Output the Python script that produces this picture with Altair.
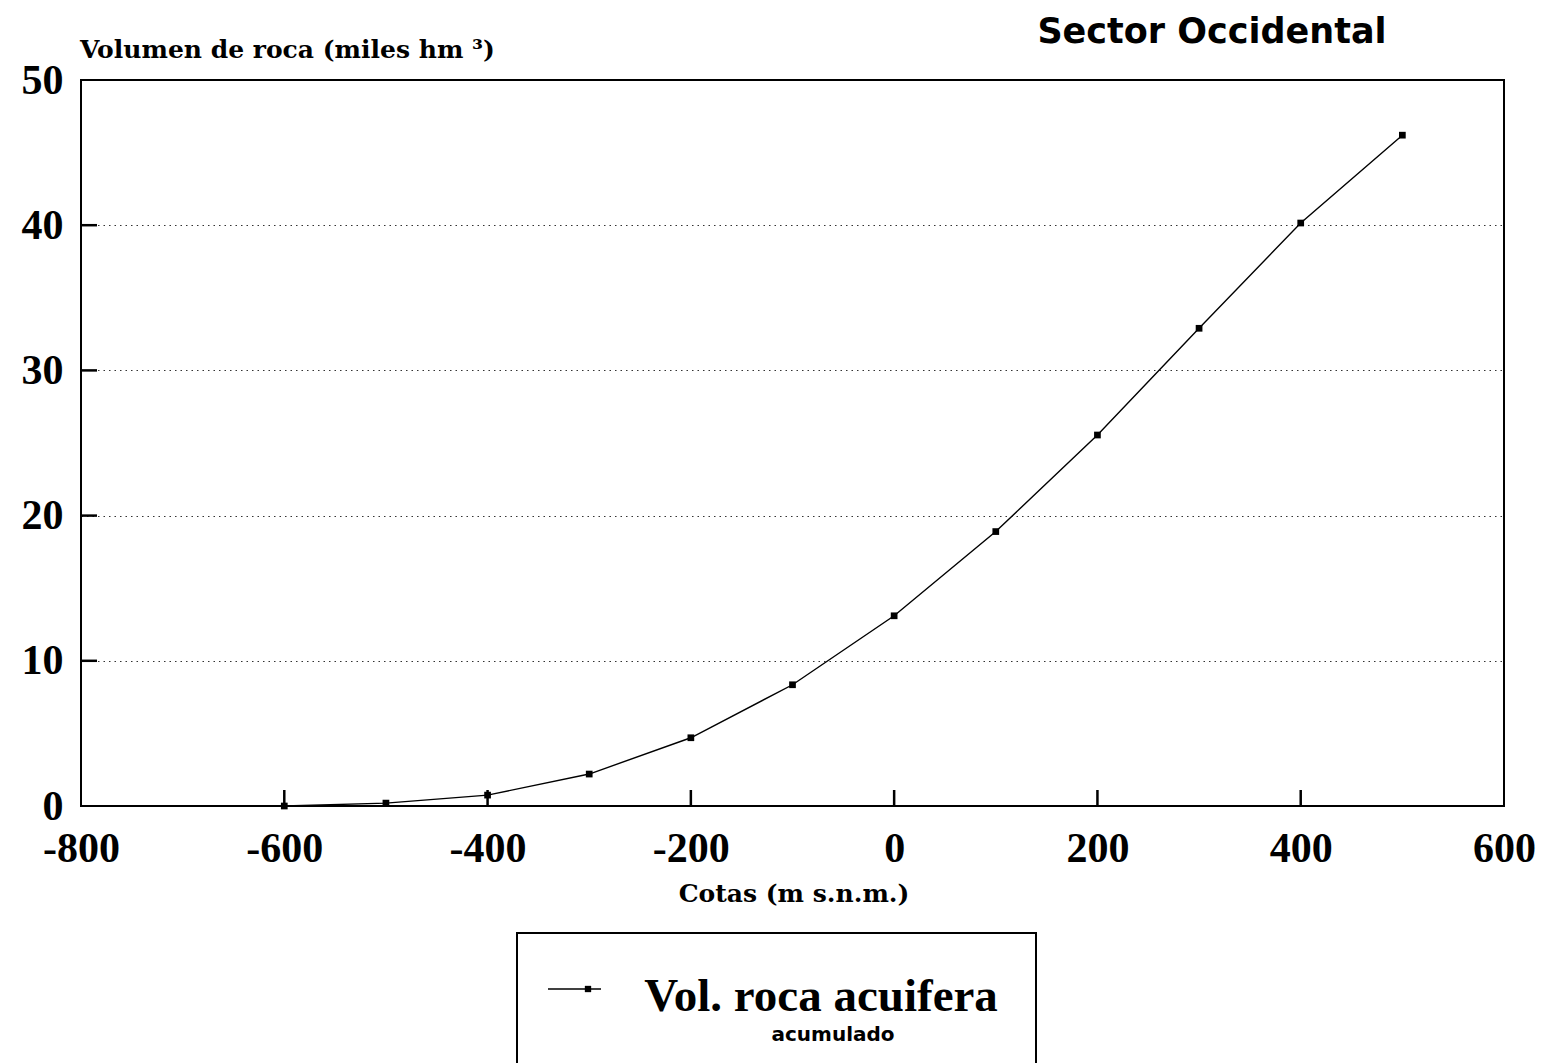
import altair as alt
import pandas as pd

# Cumulative aquifer rock volume by elevation
cotas = [-600, -500, -400, -300, -200, -100, 0, 100, 200, 300, 400, 500]
volumen = [0.0, 0.2, 0.75, 2.2, 4.7, 8.35, 13.1, 18.9, 25.55, 32.9, 40.15, 46.2]

x_ticks = [-800, -600, -400, -200, 0, 200, 400, 600]
x_inner_ticks = [-600, -400, -200, 0, 200, 400]
y_ticks = [0, 10, 20, 30, 40, 50]
y_inner_ticks = [10, 20, 30, 40]

titulo = "Sector Occidental"
titulo_y = "Volumen de roca (miles hm ³)"
titulo_x = "Cotas (m s.n.m.)"
leyenda = "Vol. roca acuifera"
leyenda_sub = "acumulado"

W, H = 1423, 726
SERIF = "Liberation Serif"

df = pd.DataFrame({"cota": cotas, "vol": volumen})

x_scale = alt.Scale(domain=[-800, 600], nice=False, zero=False)
y_scale = alt.Scale(domain=[0, 50], nice=False)

x_enc = alt.X(
    "cota:Q",
    scale=x_scale,
    axis=alt.Axis(
        values=x_ticks, title=None, domain=False, ticks=False, grid=False,
        labelExpr="'' + datum.value",
        labelFont=SERIF, labelFontWeight="bold", labelFontSize=42,
        labelColor="black", labelPadding=22, labelFlush=False,
    ),
)
y_enc = alt.Y(
    "vol:Q",
    scale=y_scale,
    axis=alt.Axis(
        values=y_ticks, title=None, domain=False, ticks=False,
        grid=True, gridColor="black", gridDash=[1.5, 4], gridWidth=1, gridOpacity=0.8,
        labelFont=SERIF, labelFontWeight="bold", labelFontSize=42,
        labelColor="black", labelPadding=18, labelFlush=False,
    ),
)

base = alt.Chart(df)
line = base.mark_line(color="black", strokeWidth=1.4).encode(x=x_enc, y=y_enc)
points = base.mark_square(size=45, color="black", opacity=1).encode(x="cota:Q", y="vol:Q")

xt = alt.Chart(pd.DataFrame({"t": x_inner_ticks})).mark_rule(color="black", strokeWidth=2.5).encode(
    x=alt.X("t:Q", scale=x_scale), y=alt.value(H), y2=alt.value(H - 16)
)
yt = alt.Chart(pd.DataFrame({"t": y_inner_ticks})).mark_rule(color="black", strokeWidth=2.5).encode(
    y=alt.Y("t:Q", scale=y_scale), x=alt.value(0), x2=alt.value(16)
)

one = pd.DataFrame({"k": [0]})


def label(text, x, y, font, size, align="center", weight="bold"):
    return alt.Chart(one).mark_text(
        text=text, font=font, fontSize=size, fontWeight=weight,
        align=align, baseline="middle", color="black",
    ).encode(x=alt.value(x), y=alt.value(y))


t_title = label(titulo, 1131, -48, "DejaVu Sans", 35)
t_ytitle = label(titulo_y, -1, -30, "DejaVu Serif", 25, align="left")
t_xtitle = label(titulo_x, 713, 814, "DejaVu Serif", 25)

legend_box = alt.Chart(one).mark_rect(fill="white", stroke="black", strokeWidth=2).encode(
    x=alt.value(436), x2=alt.value(955), y=alt.value(853), y2=alt.value(995)
)
legend_line = alt.Chart(one).mark_rule(color="black", strokeWidth=1.4).encode(
    x=alt.value(467), x2=alt.value(520), y=alt.value(909)
)
legend_pt = alt.Chart(one).mark_square(size=40, color="black", opacity=1).encode(
    x=alt.value(507), y=alt.value(909)
)
t_leg = label(leyenda, 740, 917, SERIF, 47)
t_leg2 = label(leyenda_sub, 752, 955, "DejaVu Sans", 20)

chart = alt.layer(
    line, points, xt, yt, t_title, t_ytitle, t_xtitle,
    legend_box, legend_line, legend_pt, t_leg, t_leg2,
).properties(
    width=W, height=H,
    autosize=alt.AutoSizeParams(type="none"),
    padding={"left": 81, "top": 80, "right": 44, "bottom": 257},
    background="white",
).configure_view(stroke="black", strokeWidth=2)

chart.save("out.html", embed_options={"renderer": "svg", "actions": False})
